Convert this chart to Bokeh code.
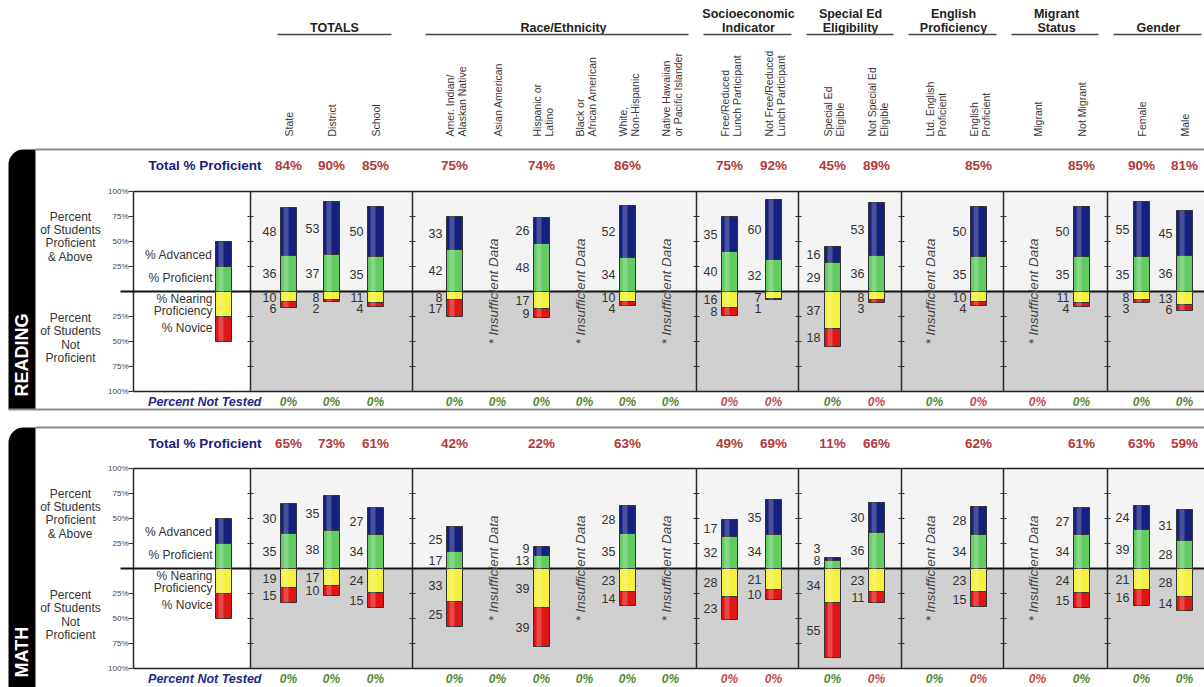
import math
from bokeh.plotting import figure
from bokeh.models import Range1d, BoxAnnotation, ColumnDataSource
from bokeh.core.properties import value
from bokeh.embed import file_html
from bokeh.resources import INLINE

# ---------------- data ----------------
columns = ["State", "District", "School",
           "Amer. Indian/\nAlaskan Native", "Asian American", "Hispanic or\nLatino",
           "Black or\nAfrican American", "White,\nNon-Hispanic", "Native Hawaiian\nor Pacific Islander",
           "Free/Reduced\nLunch Participant", "Not Free/Reduced\nLunch Participant",
           "Special Ed\nEligible", "Not Special Ed\nEligible",
           "Ltd. English\nProficient", "English\nProficient",
           "Migrant", "Not Migrant",
           "Female", "Male"]
groups = ["TOTALS", "Race/Ethnicity", "Socioeconomic\nIndicator", "Special Ed\nEligibility",
          "English\nProficiency", "Migrant\nStatus", "Gender"]
group_sizes = [3, 6, 2, 2, 2, 2, 2]

reading_adv = [48, 53, 50, 33, None, 26, None, 52, None, 35, 60, 16, 53, None, 50, None, 50, 55, 45]
reading_prof = [36, 37, 35, 42, None, 48, None, 34, None, 40, 32, 29, 36, None, 35, None, 35, 35, 36]
reading_near = [10, 8, 11, 8, None, 17, None, 10, None, 16, 7, 37, 8, None, 10, None, 11, 8, 13]
reading_nov = [6, 2, 4, 17, None, 9, None, 4, None, 8, 1, 18, 3, None, 4, None, 4, 3, 6]
reading_total = [84, 90, 85, 75, None, 74, None, 86, None, 75, 92, 45, 89, None, 85, None, 85, 90, 81]
reading_not_tested = [0, 0, 0, 0, 0, 0, 0, 0, 0, 0, 0, 0, 0, 0, 0, 0, 0, 0, 0]

math_adv = [30, 35, 27, 25, None, 9, None, 28, None, 17, 35, 3, 30, None, 28, None, 27, 24, 31]
math_prof = [35, 38, 34, 17, None, 13, None, 35, None, 32, 34, 8, 36, None, 34, None, 34, 39, 28]
math_near = [19, 17, 24, 33, None, 39, None, 23, None, 28, 21, 34, 23, None, 23, None, 24, 21, 28]
math_nov = [15, 10, 15, 25, None, 39, None, 14, None, 23, 10, 55, 11, None, 15, None, 15, 16, 14]
math_total = [65, 73, 61, 42, None, 22, None, 63, None, 49, 69, 11, 66, None, 62, None, 61, 63, 59]
math_not_tested = [0, 0, 0, 0, 0, 0, 0, 0, 0, 0, 0, 0, 0, 0, 0, 0, 0, 0, 0]

legend_levels = ["% Advanced", "% Proficient", "% Nearing\nProficiency", "% Novice"]
legend_demo = [25, 25, 25, 25]
y_ticks = [100, 75, 50, 25, -25, -50, -75, -100]
y_tick_labels = ["100%", "75%", "50%", "25%", "25%", "50%", "75%", "100%"]

# ---------------- layout / style ----------------
FONT = "Liberation Sans"
COL_X = [288, 331, 375, 454, 497, 541, 584, 627, 670, 729, 773, 832, 876, 934, 978, 1037, 1081, 1141, 1184]
SEP_X = [133, 250, 412, 696, 798, 901, 1003, 1107]
GROUP_LINE = [(277, 391), (425, 688), (703, 791), (806, 893), (908, 996), (1011, 1098), (1113, 1201)]
GROUP_TEXT_X = [334, 563, 748, 850, 953, 1056, 1158]
NT_STYLE = ["g", "g", "g", "g", "g", "g", "g", "g", "g", "r", "r", "g", "r", "g", "r", "r", "g", "g", "g"]
C_ADV, C_PROF, C_NEAR, C_NOV = "#16207f", "#62cc62", "#f4f03e", "#e01616"
C_UP, C_DOWN = "#f4f4f4", "#d0d0d0"
C_NAVY, C_VAL = "#1c1c7a", "#b23a3a"
C_GREEN, C_RED = "#528a30", "#c24c4c"
BAR_W = 16
RIGHT = 1215

p = figure(width=1204, height=687, x_range=Range1d(0, 1204), y_range=Range1d(-687, 0),
           output_backend="svg", toolbar_location=None, min_border=0,
           x_axis_location=None, y_axis_location=None)
p.grid.visible = False
p.outline_line_color = None
p.background_fill_color = "white"
p.border_fill_color = "white"


def Y(ref):
    return -ref


def txt(xs, ys, ts, size, color, align="center", baseline="middle", style="normal",
        angle=0.0, rng="default"):
    p.text(x=list(xs), y=list(ys), text=list(ts), text_font=value(FONT),
           text_font_size=f"{size}px", text_color=color, text_align=align,
           text_baseline=baseline, text_font_style=style, angle=angle, y_range_name=rng)


# ---------------- header ----------------
for gi, g in enumerate(groups):
    lines = g.split("\n")
    n = len(lines)
    for i, ln in enumerate(lines):
        txt([GROUP_TEXT_X[gi]], [Y(27 - (n - 1 - i) * 14)], [ln], 12.5, "#222222", style="bold")
    x0, x1 = GROUP_LINE[gi]
    p.segment(x0=[x0], y0=[Y(34)], x1=[x1], y1=[Y(34)], line_color="#444444", line_width=1.5)

for ci, c in enumerate(columns):
    lines = c.split("\n")
    n = len(lines)
    for i, ln in enumerate(lines):
        txt([COL_X[ci] + (i - (n - 1) / 2) * 12 + (1 if n > 1 else 0)], [Y(136)], [ln], 10.5,
            "#3a3a3a", align="left", angle=math.pi / 2)


# ---------------- panels ----------------
def panel(key, zero, top_line, bottom_line, tab_bottom, title, title_bottom,
          adv, prof, near, nov, total, not_tested):
    p.extra_y_ranges[key] = Range1d(zero - 687, zero)

    # tab and panel border
    p.add_layout(BoxAnnotation(left=8, right=35, top=Y(top_line), bottom=Y(tab_bottom),
                               fill_color="black", fill_alpha=1.0, line_color=None,
                               border_radius=dict(top_left=15, top_right=0, bottom_right=0, bottom_left=0),
                               level="underlay"))
    p.segment(x0=[35, 8], y0=[Y(top_line), Y(bottom_line)], x1=[RIGHT, RIGHT],
              y1=[Y(top_line), Y(bottom_line)], line_color="#8c8c8c", line_width=2)
    txt([21], [zero - title_bottom], [title], 18, "white", align="left",
        style="bold", angle=math.pi / 2, rng=key)

    # total % proficient row
    txt([261], [Y(top_line + 16)], ["Total % Proficient"], 13.5, C_NAVY, align="right", style="bold")
    tx = [COL_X[i] for i, v in enumerate(total) if v is not None]
    tv = [f"{v}%" for v in total if v is not None]
    txt(tx, [Y(top_line + 16)] * len(tx), tv, 13.5, C_VAL, style="bold")

    # backgrounds
    p.quad(left=[SEP_X[1]], right=[RIGHT], bottom=[0], top=[100], fill_color=C_UP,
           line_color=None, y_range_name=key)
    p.quad(left=[SEP_X[1]], right=[RIGHT], bottom=[-100], top=[0], fill_color=C_DOWN,
           line_color=None, y_range_name=key)

    # frame lines
    p.segment(x0=[133, 133], y0=[100, -100], x1=[RIGHT, RIGHT], y1=[100, -100],
              line_color="#222222", line_width=1.5, y_range_name=key)
    p.segment(x0=SEP_X, y0=[-100] * len(SEP_X), x1=SEP_X, y1=[100] * len(SEP_X),
              line_color="#2a2a2a", line_width=1.5, y_range_name=key)
    tk = [75, 50, 25, -25, -50, -75]
    sx0, sy, sx1 = [], [], []
    for sxv in SEP_X[1:]:
        for t in tk:
            sx0.append(sxv - 3); sx1.append(sxv + 3); sy.append(t)
    p.segment(x0=sx0, y0=sy, x1=sx1, y1=sy, line_color="#333333", line_width=1, y_range_name=key)
    p.segment(x0=[128] * len(y_ticks), y0=y_ticks, x1=[133] * len(y_ticks), y1=y_ticks,
              line_color="#333333", line_width=1, y_range_name=key)
    txt([128] * len(y_ticks), y_ticks, y_tick_labels, 8, "#444444", align="right", rng=key)
    p.segment(x0=[120], y0=[0], x1=[RIGHT], y1=[0], line_color="#111111", line_width=2,
              y_range_name=key)

    # left descriptive labels
    txt([70] * 4, [75, 62, 49, 35], ["Percent", "of Students", "Proficient", "& Above"], 12,
        "#333333", rng=key)
    txt([70] * 4, [-26, -39, -53, -66], ["Percent", "of Students", "Not", "Proficient"], 12,
        "#333333", rng=key)

    # legend bar
    la, lp, ln_, lv = legend_demo
    lx = 223
    for bot, top, col in [(lp, lp + la, C_ADV), (0, lp, C_PROF), (-ln_, 0, C_NEAR),
                          (-(ln_ + lv), -ln_, C_NOV)]:
        p.vbar(x=[lx], width=BAR_W, bottom=[bot], top=[top], fill_color=col,
               line_color="#333333", line_width=1, y_range_name=key)
    p.vbar(x=[lx - 2.5], width=5, bottom=[-(ln_ + lv)], top=[lp + la], fill_color="white",
           fill_alpha=0.22, line_color=None, y_range_name=key)
    txt([212] * 5, [lp + la / 2 - 1, lp / 2 + 1, -7, -19, -ln_ - lv / 2 + 1],
        ["% Advanced", "% Proficient", "% Nearing", "Proficiency", "% Novice"], 12,
        "#333333", align="right", rng=key)

    # data bars
    idx = [i for i in range(len(columns)) if adv[i] is not None]
    xs = [COL_X[i] for i in idx]
    A = [adv[i] for i in idx]
    P = [prof[i] for i in idx]
    N = [near[i] for i in idx]
    V = [nov[i] for i in idx]
    src = ColumnDataSource(dict(
        x=xs, hx=[x - 2.5 for x in xs],
        adv_b=P, adv_t=[a + b for a, b in zip(A, P)],
        prof_b=[0] * len(xs), prof_t=P,
        near_b=[-n for n in N], near_t=[0] * len(xs),
        nov_b=[-(n + v) for n, v in zip(N, V)], nov_t=[-n for n in N],
    ))
    for seg, col in [("adv", C_ADV), ("prof", C_PROF), ("near", C_NEAR), ("nov", C_NOV)]:
        p.vbar(x="x", width=BAR_W, bottom=f"{seg}_b", top=f"{seg}_t", source=src,
               fill_color=col, line_color="#333333", line_width=1, y_range_name=key)
    p.vbar(x="hx", width=5, bottom="nov_b", top="adv_t", source=src, fill_color="white",
           fill_alpha=0.22, line_color=None, y_range_name=key)

    # value labels
    lxs, lys, lts = [], [], []
    for x, a, pr, n, v in zip(xs, A, P, N, V):
        pl = max(pr / 2, 8)
        al = max(pr + a / 2, pl + 12)
        nl = max(n / 2, 6)
        vl = max(n + v / 2, nl + 11)
        for yy, t in [(al, a), (pl, pr), (-nl, n), (-vl, v)]:
            lxs.append(x - 12); lys.append(yy); lts.append(str(t))
    txt(lxs, lys, lts, 12.5, "#333333", align="right", rng=key)

    # insufficient data
    ix = [COL_X[i] - 4 for i in range(len(columns)) if adv[i] is None]
    txt(ix, [0] * len(ix), ["* Insufficient Data"] * len(ix), 13.5, "#444444",
        style="italic", angle=math.pi / 2, rng=key)

    # not tested row
    txt([261], [-110], ["Percent Not Tested"], 12.5, "#1f2a8a",
        align="right", style="bold italic", rng=key)
    ntc = [C_GREEN if s == "g" else C_RED for s in NT_STYLE]
    for x, v, c in zip(COL_X, not_tested, ntc):
        txt([x], [-110], [f"{v}%"], 12, c, style="bold italic", rng=key)


panel("read", 291, 149, 409, 409, "READING", 396,
      reading_adv, reading_prof, reading_near, reading_nov, reading_total, reading_not_tested)
panel("math", 568, 427, 700, 700, "MATH", 677,
      math_adv, math_prof, math_near, math_nov, math_total, math_not_tested)

open("out.html", "w").write(file_html(p, INLINE))
